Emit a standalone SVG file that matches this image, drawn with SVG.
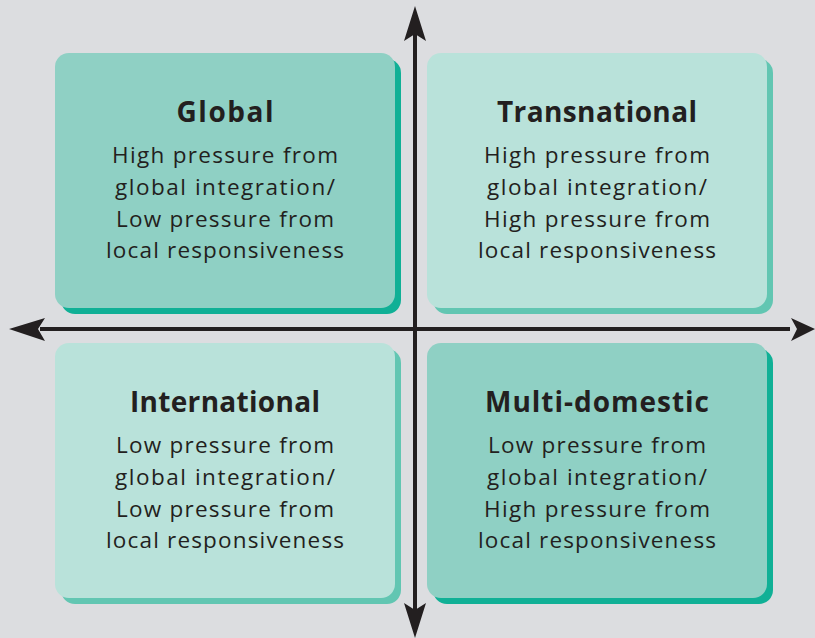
<svg xmlns="http://www.w3.org/2000/svg" width="815" height="638" viewBox="0 0 815 638">
  <style>
    .bg { fill: #dcdde0; }
    .dark .shadow { fill: #10b096; }
    .dark .face { fill: #8fd0c4; }
    .light .shadow { fill: #62c6b2; }
    .light .face { fill: #b9e2da; }
    text { font-family: "Open Sans", "Noto Sans", sans-serif; fill: #231f20; text-anchor: middle; }
    .title { font-size: 28px; font-weight: bold; }
    .body { font-size: 22.5px; }
    .axis { stroke: #231f20; stroke-width: 4; fill: none; }
    .head { fill: #231f20; }
  </style>

  <rect class="bg" x="0" y="0" width="815" height="638"/>

  <!-- quadrant boxes -->
  <g id="global" class="dark">
    <rect class="shadow" x="61" y="59" width="340" height="255" rx="14"/>
    <rect class="face" x="55" y="53" width="340" height="255" rx="14"/>
    <text class="title" x="225" y="122" textLength="97" lengthAdjust="spacing">Global</text>
    <text class="body" x="225" y="163" textLength="226" lengthAdjust="spacing">High pressure from</text>
    <text class="body" x="225" y="195" textLength="220" lengthAdjust="spacing">global integration/</text>
    <text class="body" x="225" y="227" textLength="218" lengthAdjust="spacing">Low pressure from</text>
    <text class="body" x="225" y="258" textLength="238" lengthAdjust="spacing">local responsiveness</text>
  </g>

  <g id="transnational" class="light">
    <rect class="shadow" x="433" y="59" width="340" height="255" rx="14"/>
    <rect class="face" x="427" y="53" width="340" height="255" rx="14"/>
    <text class="title" x="597" y="122" textLength="200" lengthAdjust="spacing">Transnational</text>
    <text class="body" x="597" y="163" textLength="226" lengthAdjust="spacing">High pressure from</text>
    <text class="body" x="597" y="195" textLength="220" lengthAdjust="spacing">global integration/</text>
    <text class="body" x="597" y="227" textLength="226" lengthAdjust="spacing">High pressure from</text>
    <text class="body" x="597" y="258" textLength="238" lengthAdjust="spacing">local responsiveness</text>
  </g>

  <g id="international" class="light">
    <rect class="shadow" x="61" y="349" width="340" height="255" rx="14"/>
    <rect class="face" x="55" y="343" width="340" height="255" rx="14"/>
    <text class="title" x="225" y="412" textLength="190" lengthAdjust="spacing">International</text>
    <text class="body" x="225" y="453" textLength="218" lengthAdjust="spacing">Low pressure from</text>
    <text class="body" x="225" y="485" textLength="220" lengthAdjust="spacing">global integration/</text>
    <text class="body" x="225" y="517" textLength="218" lengthAdjust="spacing">Low pressure from</text>
    <text class="body" x="225" y="548" textLength="238" lengthAdjust="spacing">local responsiveness</text>
  </g>

  <g id="multi-domestic" class="dark">
    <rect class="shadow" x="433" y="349" width="340" height="255" rx="14"/>
    <rect class="face" x="427" y="343" width="340" height="255" rx="14"/>
    <text class="title" x="597" y="412" textLength="224" lengthAdjust="spacing">Multi-domestic</text>
    <text class="body" x="597" y="453" textLength="218" lengthAdjust="spacing">Low pressure from</text>
    <text class="body" x="597" y="485" textLength="220" lengthAdjust="spacing">global integration/</text>
    <text class="body" x="597" y="517" textLength="226" lengthAdjust="spacing">High pressure from</text>
    <text class="body" x="597" y="548" textLength="238" lengthAdjust="spacing">local responsiveness</text>
  </g>

  <!-- axes -->
  <g id="connectors">
    <line class="axis" x1="415" y1="30" x2="415" y2="612"/>
    <line class="axis" x1="40" y1="329" x2="790" y2="329"/>
    <!-- arrowheads: up, down, left, right -->
    <path class="head" d="M415 6 L426 41 L415 34 L404 41 Z"/>
    <path class="head" d="M415 638 L426 603 L415 610 L404 603 Z"/>
    <path class="head" d="M9 329 L45 318 L38 329 L45 341 Z"/>
    <path class="head" d="M815 329 L791 318 L797 329 L791 341 Z"/>
  </g>
</svg>
